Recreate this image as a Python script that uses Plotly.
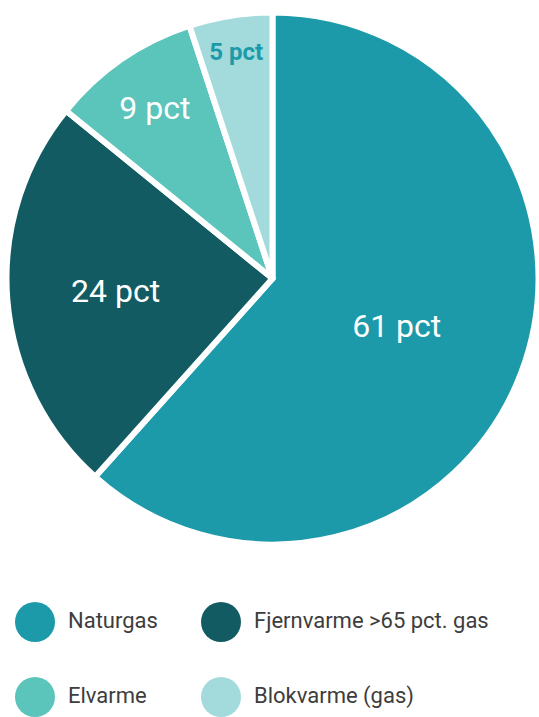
import plotly.graph_objects as go

categories = ["Naturgas", "Fjernvarme >65 pct. gas", "Elvarme", "Blokvarme (gas)"]
values = [61, 24, 9, 5]
colors = ["#1c9aa9", "#135b63", "#5bc4bb", "#a3dadb"]
label_colors = ["#ffffff", "#ffffff", "#ffffff", "#1c9aa9"]
label_sizes = [32, 32, 32, 24]
templates = ["%{value} pct", "%{value} pct", "%{value} pct", "<b>%{value} pct</b>"]

W, H = 539, 717

fig = go.Figure()
fig.add_trace(go.Pie(
    labels=categories, values=values, sort=False, direction="clockwise", rotation=0,
    marker=dict(colors=colors, line=dict(color="white", width=6)),
    texttemplate=templates, textposition="inside", insidetextorientation="horizontal",
    textfont=dict(family="Roboto", color=label_colors, size=label_sizes),
    showlegend=False, hoverinfo="label+value",
    domain=dict(x=[6 / W, 1.0], y=[0.2406, 0.9826]),
))

# custom legend (2 columns)
col_x = [35, 221]
row_y = [95, 20]
mx = [col_x[i % 2] for i in range(len(categories))]
my = [row_y[i // 2] for i in range(len(categories))]
fig.add_trace(go.Scatter(
    x=mx, y=my, mode="markers", marker=dict(size=40, color=colors, line=dict(width=0)),
    showlegend=False, hoverinfo="skip", xaxis="x", yaxis="y",
))
fig.add_trace(go.Scatter(
    x=[v + 33 for v in mx], y=my, mode="text", text=categories, textposition="middle right",
    textfont=dict(family="Roboto", size=22, color="#3d3d3d", weight=400),
    showlegend=False, hoverinfo="skip", xaxis="x", yaxis="y",
))

fig.update_layout(
    width=W, height=H, margin=dict(l=0, r=0, t=0, b=0),
    paper_bgcolor="white", plot_bgcolor="white",
    xaxis=dict(domain=[0, 1], range=[0, W], visible=False, fixedrange=True),
    yaxis=dict(domain=[0, 143 / H], range=[0, 143], visible=False, fixedrange=True),
)
fig.write_html("out.html", config={"displayModeBar": False},
               post_script="document.body.style.margin='0';document.body.style.overflow='hidden';")
